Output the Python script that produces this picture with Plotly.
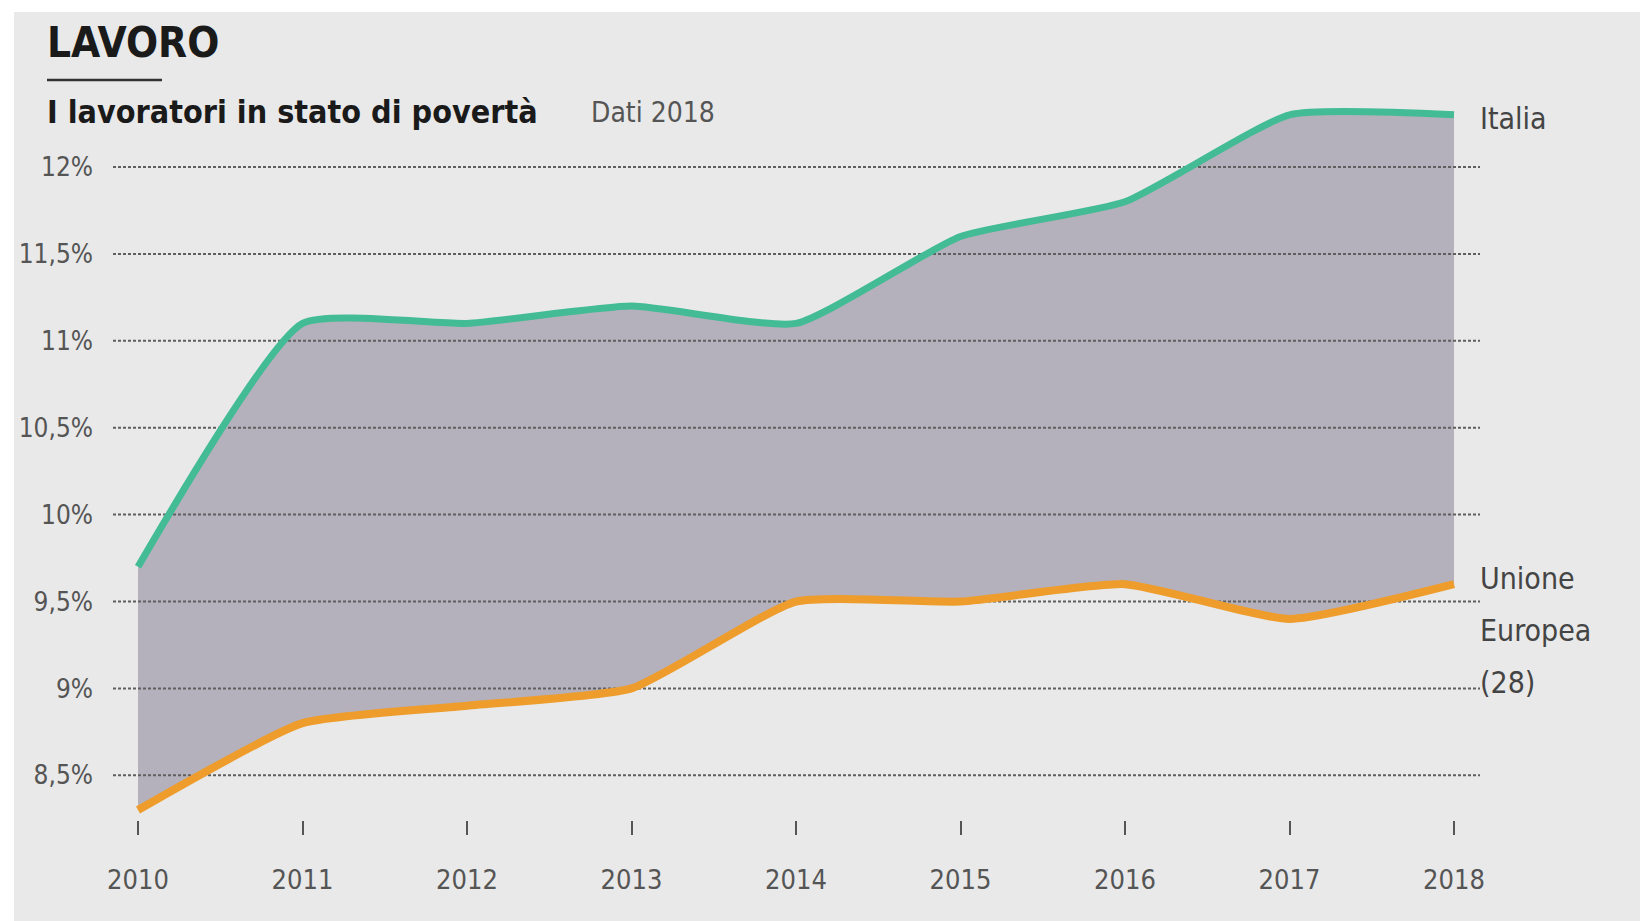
import plotly.graph_objects as go

# Working poor share (%), Italy vs EU-28
years = [2010, 2011, 2012, 2013, 2014, 2015, 2016, 2017, 2018]
italia = [9.7, 11.1, 11.1, 11.2, 11.1, 11.6, 11.8, 12.3, 12.3]
ue28 = [8.3, 8.8, 8.9, 9.0, 9.5, 9.5, 9.6, 9.4, 9.6]

y_ticks = [12, 11.5, 11, 10.5, 10, 9.5, 9, 8.5]
y_labels = ["12%", "11,5%", "11%", "10,5%", "10%", "9,5%", "9%", "8,5%"]
x_labels = [str(y) for y in years]

W, H = 1640, 921
ML, MR, MT, MB = 113, 160, 100, 101
PW, PH = W - ML - MR, H - MT - MB
X_RANGE = [2009.848, 2018.158]
Y_RANGE = [8.243, 12.3855]

BG = "#e9e9e9"
TEAL = "#43bb95"
ORANGE = "#ee9c2c"
FILL = "#b4b1bc"
TXT = "#555555"
FONT = "DejaVu Sans Condensed, Liberation Sans Narrow, Roboto, sans-serif"
SMOOTH = 0.5


def px(x):
    return (x - ML) / PW


def py(y):
    return (MT + PH - y) / PH


fig = go.Figure()

# band between the two series
fig.add_trace(go.Scatter(x=years, y=ue28, mode="lines",
                         line=dict(width=0, shape="spline", smoothing=SMOOTH),
                         hoverinfo="skip", showlegend=False))
fig.add_trace(go.Scatter(x=years, y=italia, mode="lines", fill="tonexty",
                         fillcolor=FILL,
                         line=dict(width=0, shape="spline", smoothing=SMOOTH),
                         hoverinfo="skip", showlegend=False))

# dashed grid drawn over the band
for v in y_ticks:
    fig.add_trace(go.Scatter(x=X_RANGE, y=[v, v], mode="lines",
                             line=dict(color="#5f5f5f", width=2, dash="3px,2px"),
                             hoverinfo="skip", showlegend=False, cliponaxis=False))

fig.add_trace(go.Scatter(x=years, y=ue28, mode="lines", name="Unione Europea (28)",
                         line=dict(color=ORANGE, width=8, shape="spline", smoothing=SMOOTH),
                         showlegend=False))
fig.add_trace(go.Scatter(x=years, y=italia, mode="lines", name="Italia",
                         line=dict(color=TEAL, width=7, shape="spline", smoothing=SMOOTH),
                         showlegend=False))

# top / left white strip
fig.add_shape(type="rect", xref="paper", yref="paper", x0=px(0), x1=px(W), y0=py(12), y1=py(0),
              fillcolor="white", line=dict(width=0), layer="below")
fig.add_shape(type="rect", xref="paper", yref="paper", x0=px(0), x1=px(14), y0=py(H), y1=py(0),
              fillcolor="white", line=dict(width=0), layer="below")
# rule under the title
fig.add_shape(type="line", xref="paper", yref="paper", x0=px(47), x1=px(162), y0=py(80), y1=py(80),
              line=dict(color="#333333", width=2.5))

ann = [
    dict(text="<b>LAVORO</b>", x=px(45), y=py(42), size=42, color="#1a1a1a"),
    dict(text="<b>I lavoratori in stato di povertà</b>", x=px(45), y=py(112), size=32, color="#1a1a1a"),
    dict(text="Dati 2018", x=px(589), y=py(112), size=28, color=TXT),
    dict(text="Italia", x=px(1478), y=py(118), size=30, color="#444444"),
    dict(text="Unione", x=px(1478), y=py(578), size=30, color="#444444"),
    dict(text="Europea", x=px(1478), y=py(630), size=30, color="#444444"),
    dict(text="(28)", x=px(1478), y=py(682), size=30, color="#444444"),
]
for a in ann:
    fig.add_annotation(text=a["text"], x=a["x"], y=a["y"], xref="paper", yref="paper",
                       xanchor="left", yanchor="middle", showarrow=False,
                       font=dict(family=FONT, size=a["size"], color=a["color"]))

fig.update_layout(
    width=W, height=H,
    margin=dict(l=ML, r=MR, t=MT, b=MB),
    paper_bgcolor=BG, plot_bgcolor=BG,
    xaxis=dict(range=X_RANGE, tickvals=years, ticktext=x_labels, showgrid=False,
               zeroline=False, showline=False, ticks="outside", ticklen=14, tickwidth=2,
               tickcolor="#555555", ticklabelstandoff=22,
               tickfont=dict(family=FONT, size=27, color=TXT)),
    yaxis=dict(range=Y_RANGE, tickvals=y_ticks, ticktext=y_labels, showgrid=False,
               zeroline=False, showline=False, ticks="", ticklabelstandoff=19,
               tickfont=dict(family=FONT, size=26, color=TXT)),
    hovermode=False,
)

fig.write_html("out.html")
